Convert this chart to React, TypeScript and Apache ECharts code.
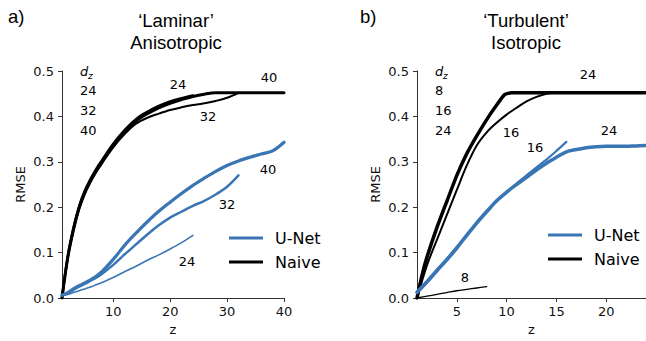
import { useEffect, useRef } from "react";
import * as echarts from "echarts";

// ---- Panel a) 'Laminar' / Anisotropic ----
const lamZ = [1, 2, 3, 4, 5, 6, 7, 8, 10, 12, 14, 16, 18, 20, 22, 24, 26, 28, 30, 32, 34, 36, 38, 40];
const lamNaive40 = [0, 0.088, 0.15, 0.198, 0.232, 0.258, 0.28, 0.299, 0.336, 0.366, 0.39, 0.406, 0.419, 0.429, 0.437, 0.444, 0.449, 0.452, 0.452, 0.452, 0.452, 0.452, 0.452, 0.452];
const lamNaive24 = [0, 0.091, 0.154, 0.202, 0.236, 0.262, 0.284, 0.303, 0.34, 0.37, 0.394, 0.41, 0.423, 0.433, 0.44, 0.446];
const lamNaive32 = [0, 0.086, 0.147, 0.195, 0.229, 0.255, 0.277, 0.296, 0.332, 0.361, 0.384, 0.397, 0.406, 0.414, 0.42, 0.425, 0.429, 0.434, 0.441, 0.452];
const lamUnet40 = [0.006, 0.012, 0.02, 0.027, 0.033, 0.04, 0.048, 0.058, 0.085, 0.116, 0.143, 0.168, 0.191, 0.211, 0.23, 0.248, 0.264, 0.279, 0.292, 0.302, 0.31, 0.317, 0.324, 0.343];
const lamUnet32 = [0.006, 0.011, 0.018, 0.025, 0.031, 0.038, 0.045, 0.053, 0.073, 0.096, 0.118, 0.14, 0.16, 0.177, 0.19, 0.203, 0.214, 0.228, 0.245, 0.27];
const lamUnet24 = [0.005, 0.008, 0.012, 0.016, 0.02, 0.024, 0.029, 0.034, 0.045, 0.058, 0.07, 0.083, 0.095, 0.108, 0.122, 0.138];
const lamTicks = [10, 20, 30, 40];
const lamDz = ["24", "32", "40"];

// ---- Panel b) 'Turbulent' / Isotropic ----
const turbZ = [1, 2, 3, 4, 5, 6, 7, 8, 9, 10, 11, 12, 13, 14, 15, 16, 17, 18, 19, 20, 21, 22, 23, 24];
const turbNaive24Z = [1, 1.5, 2, 3, 4, 5, 6, 7, 8, 9, 9.8, 10.5, 12, 16, 20, 24];
const turbNaive24 = [0, 0.05, 0.09, 0.155, 0.213, 0.27, 0.318, 0.357, 0.393, 0.425, 0.448, 0.452, 0.452, 0.452, 0.452, 0.452];
const turbNaive16 = [0, 0.072, 0.128, 0.183, 0.238, 0.292, 0.336, 0.365, 0.386, 0.404, 0.419, 0.433, 0.443, 0.45, 0.452, 0.452];
const turbNaive8 = [0, 0.004, 0.008, 0.012, 0.016, 0.019, 0.022, 0.025];
const turbUnet24 = [0.012, 0.035, 0.06, 0.084, 0.11, 0.138, 0.165, 0.19, 0.214, 0.233, 0.25, 0.266, 0.282, 0.297, 0.31, 0.322, 0.327, 0.331, 0.333, 0.334, 0.334, 0.334, 0.335, 0.336];
const turbUnet16 = [0.015, 0.038, 0.063, 0.087, 0.113, 0.14, 0.167, 0.192, 0.213, 0.232, 0.252, 0.27, 0.288, 0.305, 0.324, 0.344];
const turbTicks = [5, 10, 15, 20];
const turbDz = ["8", "16", "24"];

const BLUE = "#3a75b4";
const BLACK = "#000000";
const AXIS = "#333333";
const FONT = "DejaVu Sans";
const TITLE_FONT = "Liberation Sans";

function zip(z: number[], v: number[]) {
  return v.map((y, i) => [z[i], y]);
}

function curve(name: string, color: string, width: number, axis: number, data: number[][], smooth: number = 0.35) {
  return {
    type: "line",
    name,
    xAxisIndex: axis,
    yAxisIndex: axis,
    data,
    color,
    symbol: "none",
    showSymbol: false,
    smooth,
    silent: true,
    lineStyle: { color, width, cap: "round", join: "round" },
    emphasis: { disabled: true },
  };
}

function xAxisOf(grid: number, min: number, max: number, ticks: number[]) {
  return {
    gridIndex: grid,
    type: "value",
    min,
    max,
    axisLine: { show: true, onZero: false, lineStyle: { color: AXIS, width: 1 } },
    axisTick: { show: true, length: 4, customValues: ticks, lineStyle: { color: AXIS, width: 1 } },
    axisLabel: { customValues: ticks, margin: 7, fontSize: 13, fontFamily: FONT, color: "#111" },
    splitLine: { show: false },
    name: "z",
    nameLocation: "middle",
    nameGap: 25,
    nameTextStyle: { fontSize: 13, fontFamily: FONT, color: "#111" },
  };
}

function yAxisOf(grid: number) {
  return {
    gridIndex: grid,
    type: "value",
    min: 0,
    max: 0.5,
    interval: 0.1,
    axisLine: { show: true, onZero: false, lineStyle: { color: AXIS, width: 1 } },
    axisTick: { show: true, length: 4, lineStyle: { color: AXIS, width: 1 } },
    axisLabel: {
      margin: 8,
      fontSize: 13,
      fontFamily: FONT,
      color: "#111",
      formatter: (v: number) => v.toFixed(1),
    },
    splitLine: { show: false },
    name: "RMSE",
    nameLocation: "middle",
    nameGap: 35,
    nameTextStyle: { fontSize: 13, fontFamily: FONT, color: "#111" },
  };
}

function label(text: string, x: number, y: number, size = 13, family = FONT, align = "center", italic = false) {
  return {
    type: "text",
    x,
    y,
    silent: true,
    style: {
      text,
      fill: "#000",
      fontSize: size,
      fontFamily: family,
      fontStyle: italic ? "italic" : "normal",
      textAlign: align,
      textVerticalAlign: "middle",
      align,
      verticalAlign: "middle",
    },
  };
}

function legendOf(left: number, top: number) {
  return {
    data: ["U-Net", "Naive"],
    orient: "vertical",
    left,
    top,
    icon: "rect",
    itemWidth: 34,
    itemHeight: 3,
    itemGap: 6,
    selectedMode: false,
    textStyle: { fontSize: 16, fontFamily: FONT, color: "#000", lineHeight: 18, padding: [0, 0, 0, 7] },
  };
}

export default function App() {
  const ref = useRef<HTMLDivElement>(null);

  useEffect(() => {
    if (!ref.current) return;
    const chart = echarts.init(ref.current, null, { renderer: "svg" });

    const dzBlock = (x: number, values: string[]) => [
      label("d", x, 71, 13, FONT, "left", true),
      label("z", x + 8, 76, 9, FONT, "left", true),
      ...values.map((v, i) => label(v, x, 90 + i * 20, 13, FONT, "left")),
    ];

    chart.setOption({
      animation: false,
      grid: [
        { left: 62, top: 71, width: 222, height: 228 },
        { left: 417, top: 71, width: 232, height: 228 },
      ],
      xAxis: [xAxisOf(0, 1, 40, lamTicks), xAxisOf(1, 1, 24, turbTicks)],
      yAxis: [yAxisOf(0), yAxisOf(1)],
      legend: [legendOf(224, 224), legendOf(543, 221)],
      series: [
        curve("Naive", BLACK, 2, 0, zip(lamZ, lamNaive32)),
        curve("Naive", BLACK, 3, 0, zip(lamZ, lamNaive40)),
        curve("Naive", BLACK, 2.5, 0, zip(lamZ, lamNaive24)),
        curve("U-Net", BLUE, 1.6, 0, zip(lamZ, lamUnet24)),
        curve("U-Net", BLUE, 2.5, 0, zip(lamZ, lamUnet32)),
        curve("U-Net", BLUE, 3.2, 0, zip(lamZ, lamUnet40)),
        curve("Naive", BLACK, 3.5, 1, zip(turbNaive24Z, turbNaive24), 0.2),
        curve("Naive", BLACK, 2, 1, zip(turbZ, turbNaive16)),
        curve("Naive", BLACK, 1.3, 1, zip(turbZ, turbNaive8)),
        curve("U-Net", BLUE, 3.5, 1, zip(turbZ, turbUnet24)),
        curve("U-Net", BLUE, 2.2, 1, zip(turbZ, turbUnet16)),
      ],
      graphic: [
        label("a)", 8, 16, 18.5, TITLE_FONT, "left"),
        label("\u2018Laminar\u2019", 176, 20, 18.5, TITLE_FONT),
        label("Anisotropic", 176, 42, 18.5, TITLE_FONT),
        label("b)", 360, 16, 18.5, TITLE_FONT, "left"),
        label("\u2018Turbulent\u2019", 526, 20, 18.5, TITLE_FONT),
        label("Isotropic", 526, 42, 18.5, TITLE_FONT),
        ...dzBlock(80, lamDz),
        ...dzBlock(435, turbDz),
        // curve annotations, panel a
        label("24", 178, 84),
        label("32", 208, 116),
        label("40", 269, 77),
        label("40", 268, 169),
        label("32", 227, 204),
        label("24", 187, 261),
        // curve annotations, panel b
        label("24", 588, 74),
        label("16", 511, 132),
        label("16", 535, 147),
        label("24", 609, 130),
        label("8", 465, 277),
      ],
    });

    return () => chart.dispose();
  }, []);

  return (
    <div
      ref={ref}
      style={{ position: "fixed", left: 0, top: 0, width: 646, height: 341, background: "#fff" }}
    />
  );
}
